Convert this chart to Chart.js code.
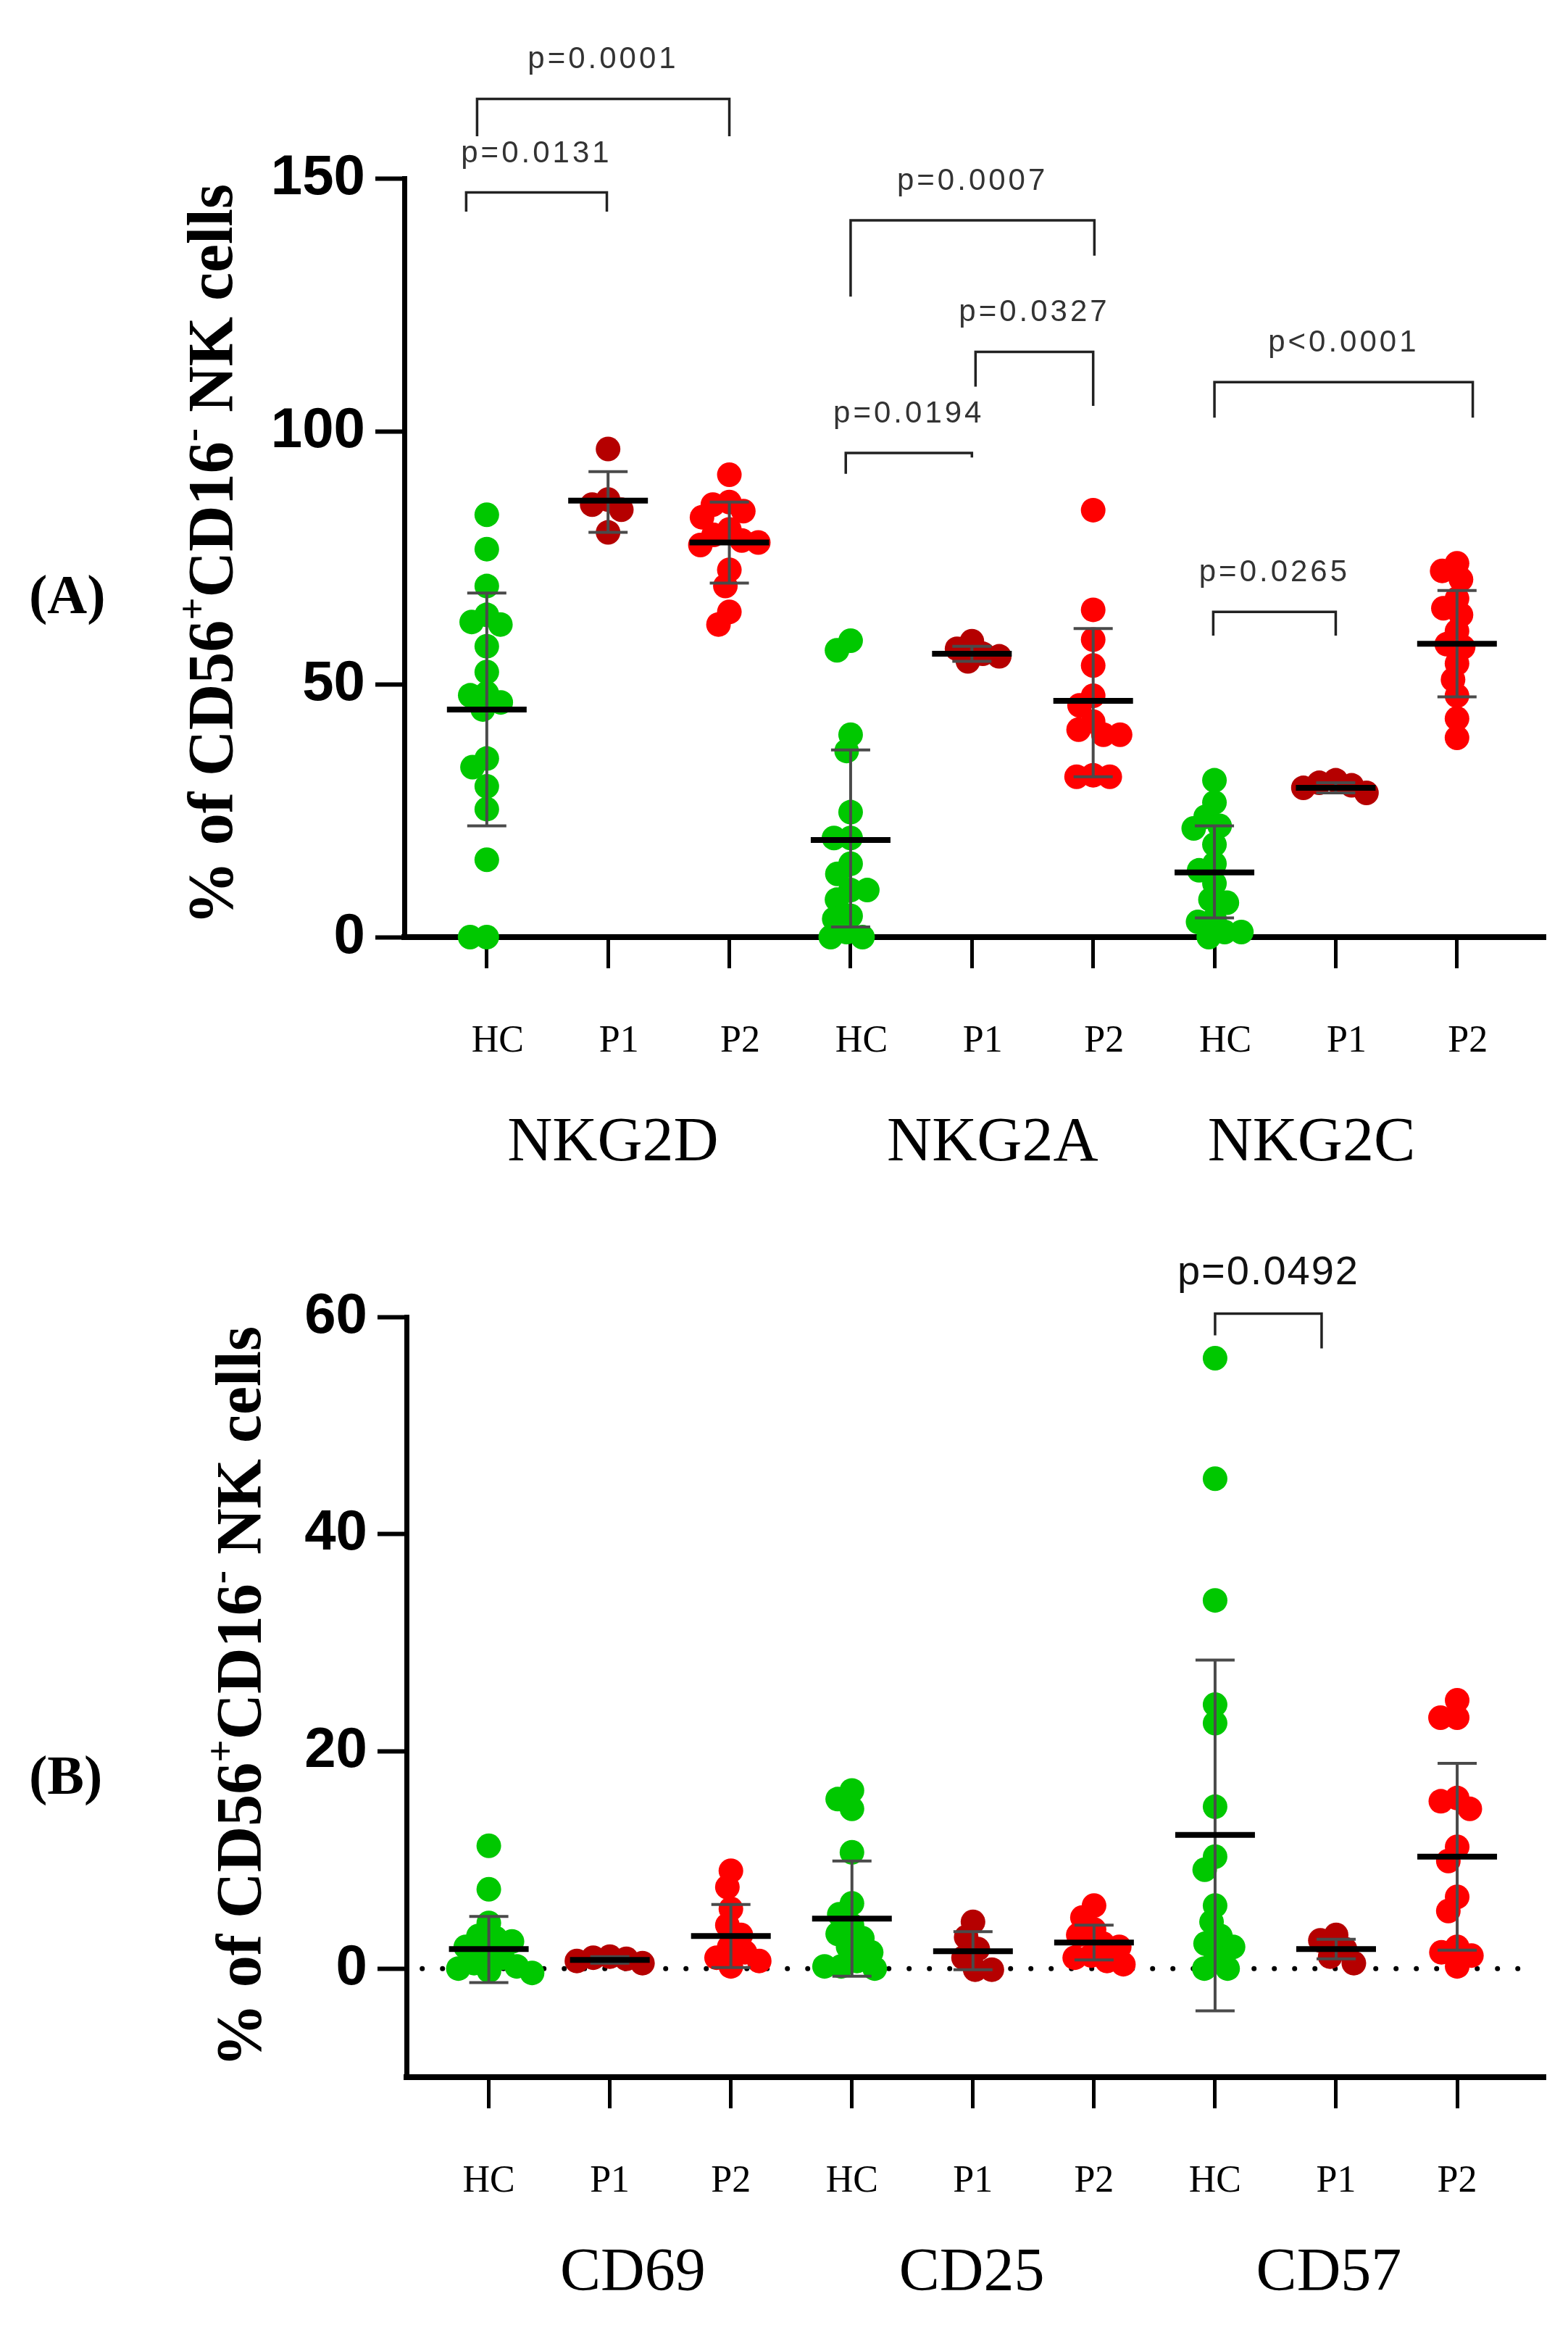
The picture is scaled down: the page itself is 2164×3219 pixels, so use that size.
<!DOCTYPE html>
<html>
<head>
<meta charset="utf-8">
<script src="https://cdn.jsdelivr.net/npm/chart.js@4.4.0/dist/chart.umd.min.js"></script>
<style>
  html, body { margin: 0; padding: 0; background: #fff; }
  #wrap { position: relative; width: 2164px; height: 3219px; }
  canvas { position: absolute; left: 0; }
</style>
</head>
<body>
<div id="wrap">
  <canvas id="panelA" width="2164" height="1650" style="top:0"></canvas>
  <canvas id="panelB" width="2164" height="1569" style="top:1650px"></canvas>
</div>
<script>
// ---- data ----
const subGroups = ["HC", "P1", "P2"];
const markersA = ["NKG2D", "NKG2A", "NKG2C"];
const markersB = ["CD69", "CD25", "CD57"];
const yTicksA = [0, 50, 100, 150];
const yTicksB = [0, 20, 40, 60];

// panel A, % of CD56+CD16- NK cells
const nkg2dHC = [83.5, 76.7, 69.4, 63.7, 62.3, 61.8, 57.5, 52.4, 48.2, 47.8, 46.4, 45, 35.3, 33.6, 29.8, 25.3, 15.3, 0, 0];
const nkg2dP1 = [96.5, 86.5, 85.5, 84.5, 80];
const nkg2dP2 = [91.4, 86, 85.5, 84.2, 83, 80.6, 79.5, 78.4, 78, 77.5, 72.6, 69.4, 64.3, 61.8];
const nkg2aHC = [58.6, 56.7, 40, 36.8, 24.7, 19.6, 19.6, 14.5, 12.5, 9.3, 9.3, 7.4, 4.2, 3.6, 1, 0, 0];
const nkg2aP1 = [58.5, 57, 56, 55.5, 54.5];
const nkg2aP2 = [84.4, 64.7, 58.8, 53.7, 47.7, 45.8, 42.6, 41, 40, 40, 32, 31.7, 31.7];
const nkg2cHC = [31, 26.6, 23.8, 22, 21.5, 18.3, 14.5, 13.2, 10.6, 7.4, 6.8, 3.6, 3, 1, 1, 0];
const nkg2cP1 = [31, 30.5, 30, 29.5, 28.5];
const nkg2cP2 = [73.9, 72.4, 70.7, 66.9, 65, 63.7, 60.5, 57.9, 57.3, 54.1, 50.9, 47.7, 43.2, 39.4];
const meanA = [45, 86.3, 78, 19.2, 56, 46.7, 12.8, 29.5, 58];
const sdLowA = [22, 80, 70, 2, 54.5, 31.7, 3.8, 28.5, 47.5];
const sdHighA = [68, 92, 86, 37, 57.5, 61, 22, 30.5, 68.5];

// panel B
const cd69HC = [11.3, 7.3, 4.2, 3, 2.8, 2.5, 2, 1.5, 1, 0.5, 0.2, 0, -0.2, -0.4];
const cd69P1 = [1.1, 1.0, 0.9, 0.7, 0.5];
const cd69P2 = [9, 7.5, 5.5, 4, 3.1, 2, 1.5, 1, 0.7, 0.2];
const cd25HC = [16.4, 15.6, 14.7, 10.7, 6, 5, 4, 3.2, 2.8, 2, 1.5, 0.7, 0.2, 0, 0.2];
const cd25P1 = [4.3, 2.9, 1.8, 1, -0.1, -0.1];
const cd25P2 = [5.8, 4.7, 3.6, 3.1, 2.3, 2, 1.2, 1, 0.7, 0.4];
const cd57HC = [56.2, 45.1, 33.9, 24.3, 22.6, 14.9, 10.3, 9.1, 5.8, 4.3, 3, 2.3, 2, 1.1, 0, 0];
const cd57P1 = [3.1, 2.6, 1.8, 1.1, 0.5];
const cd57P2 = [24.7, 23.1, 23.1, 15.7, 15.4, 14.7, 11.2, 9.9, 6.6, 5.3, 2, 1.5, 1.2, 0.2];
const meanB = [1.8, 0.8, 3.0, 4.6, 1.6, 2.4, 12.3, 1.8, 10.3];
const sdLowB = [-1.3, 0.5, 0.1, -0.7, -0.1, 0.8, -3.9, 0.9, 1.7];
const sdHighB = [4.8, 1.1, 5.9, 9.9, 3.4, 4.0, 28.4, 2.7, 18.9];

// significance brackets: [from, to, bar height, left leg end, right leg end, label]
const bracketsA = [
  [-0.17, 0.99, 147.2, 143.4, 143.4, "p=0.0131"],
  [-0.08, 2.0, 165.7, 158.3, 158.3, "p=0.0001"],
  [3.0, 5.01, 141.7, 126.6, 134.7, "p=0.0007"],
  [4.03, 5.0, 115.7, 108.8, 105, "p=0.0327"],
  [2.96, 4.0, 95.7, 91.6, 94.8, "p=0.0194"],
  [6.0, 8.13, 109.7, 102.7, 102.7, "p<0.0001"],
  [5.99, 7.0, 64.3, 59.6, 59.6, "p=0.0265"]
];
const bracketsB = [
  [6.0, 6.88, 60.3, 58.3, 57.1, "p=0.0492"]
];

const GREEN = "#00c800", DARKRED = "#b50000", RED = "#ff0000";
const groupColors = [GREEN, DARKRED, RED];
const SANS = "'Liberation Sans', Arial, sans-serif";
const SERIF = "'Liberation Serif', 'Times New Roman', serif";
const DOT_R = 17;
const SWARM_D = 23;

// simple beeswarm: spread dots sideways so they don't pile up
function applySwarm(chart, groups) {
  const xs = chart.scales.x, ys = chart.scales.y;
  const pxPerX = xs.getPixelForValue(1) - xs.getPixelForValue(0);
  groups.forEach((vals, gi) => {
    const order = vals.map((v, i) => i).sort((a, b) => vals[b] - vals[a]);
    const placed = [];
    const offs = new Array(vals.length).fill(0);
    order.forEach(i => {
      const py = ys.getPixelForValue(vals[i]);
      const blocked = [];
      placed.forEach(p => {
        const dy = Math.abs(p.y - py);
        if (dy < SWARM_D) {
          const w = Math.sqrt(SWARM_D * SWARM_D - dy * dy);
          blocked.push([p.x - w, p.x + w]);
        }
      });
      const cands = [0];
      blocked.forEach(b => cands.push(b[0], b[1]));
      cands.sort((a, b) => Math.abs(a) - Math.abs(b));
      const x = cands.find(c => blocked.every(b => c <= b[0] + 1e-6 || c >= b[1] - 1e-6));
      placed.push({ x: x, y: py });
      offs[i] = x;
    });
    chart.data.datasets[gi].data = vals.map((v, i) => ({ x: gi + offs[i] / pxPerX, y: v }));
  });
  chart.update("none");
}

function drawYTitle(ctx, cx, cy, size) {
  const parts = [
    { t: "% of CD56" }, { t: "+", sup: true }, { t: "CD16" }, { t: "-", sup: true }, { t: " NK cells" }
  ];
  const big = "bold " + size + "px " + SERIF;
  const small = "bold " + Math.round(size * 0.62) + "px " + SERIF;
  let total = 0;
  parts.forEach(p => { ctx.font = p.sup ? small : big; p.w = ctx.measureText(p.t).width; total += p.w; });
  ctx.save();
  ctx.translate(cx, cy);
  ctx.rotate(-Math.PI / 2);
  ctx.fillStyle = "#000";
  ctx.textBaseline = "alphabetic";
  ctx.textAlign = "left";
  let x = -total / 2;
  parts.forEach(p => {
    ctx.font = p.sup ? small : big;
    ctx.fillText(p.t, x, size * 0.33 - (p.sup ? size * 0.42 : 0));
    x += p.w;
  });
  ctx.restore();
}

function makePanel(id, opts) {
  const groups = opts.groups;
  const datasets = groups.map((vals, gi) => ({
    type: "scatter",
    data: vals.map(v => ({ x: gi, y: v })),
    backgroundColor: groupColors[gi % 3],
    borderWidth: 0,
    pointRadius: DOT_R,
    pointHoverRadius: DOT_R,
    clip: false,
    order: 1
  }));
  if (opts.zeroLine) {
    datasets.push({
      type: "line",
      data: [{ x: -0.55, y: 0 }, { x: 8.62, y: 0 }],
      borderColor: "#000",
      borderWidth: 7,
      borderDash: [0, 28],
      borderCapStyle: "round",
      pointRadius: 0,
      clip: false,
      order: 10
    });
  }

  const overlay = {
    id: "overlay" + id,
    afterDatasetsDraw(chart) {
      const ctx = chart.ctx, xs = chart.scales.x, ys = chart.scales.y;
      ctx.save();
      opts.mean.forEach((m, i) => {
        const x = xs.getPixelForValue(i);
        const yl = ys.getPixelForValue(opts.lo[i]), yh = ys.getPixelForValue(opts.hi[i]);
        ctx.strokeStyle = "#4a4a4a";
        ctx.lineWidth = 4;
        ctx.beginPath();
        ctx.moveTo(x, yl); ctx.lineTo(x, yh);
        ctx.moveTo(x - 27, yl); ctx.lineTo(x + 27, yl);
        ctx.moveTo(x - 27, yh); ctx.lineTo(x + 27, yh);
        ctx.stroke();
        const ym = ys.getPixelForValue(m);
        ctx.strokeStyle = "#000";
        ctx.lineWidth = 8;
        ctx.beginPath();
        ctx.moveTo(x - 55, ym); ctx.lineTo(x + 55, ym);
        ctx.stroke();
      });
      ctx.restore();
    },
    afterDraw(chart) {
      const ctx = chart.ctx, xs = chart.scales.x, ys = chart.scales.y;
      ctx.save();
      // brackets
      opts.brackets.forEach(b => {
        const x1 = xs.getPixelForValue(b[0]), x2 = xs.getPixelForValue(b[1]);
        const yt = ys.getPixelForValue(b[2]);
        ctx.strokeStyle = "#222";
        ctx.lineWidth = 3.5;
        ctx.beginPath();
        ctx.moveTo(x1, ys.getPixelForValue(b[3]));
        ctx.lineTo(x1, yt);
        ctx.lineTo(x2, yt);
        ctx.lineTo(x2, ys.getPixelForValue(b[4]));
        ctx.stroke();
        ctx.fillStyle = opts.pColor;
        ctx.font = opts.pFont;
        ctx.letterSpacing = opts.pSpacing;
        ctx.textAlign = "center";
        ctx.textBaseline = "alphabetic";
        ctx.fillText(b[5], (x1 + x2) / 2, yt - opts.pGap);
        ctx.letterSpacing = "0px";
      });
      // marker names under each triplet
      ctx.fillStyle = "#000";
      ctx.font = opts.groupFont;
      ctx.textAlign = "center";
      ctx.textBaseline = "middle";
      opts.markers.forEach((name, i) => {
        ctx.fillText(name, xs.getPixelForValue(opts.markerAt[i]), opts.markerY);
      });
      // panel letter
      ctx.font = "bold 76px " + SERIF;
      ctx.textAlign = "left";
      ctx.fillText(opts.letter, 40, opts.letterY);
      ctx.restore();
      drawYTitle(ctx, opts.titleX, opts.titleY, 88);
    }
  };

  const chart = new Chart(document.getElementById(id), {
    data: { datasets: datasets },
    options: {
      responsive: false,
      animation: false,
      devicePixelRatio: 1,
      layout: { padding: { left: 0, right: 31, top: opts.top, bottom: opts.bottom } },
      plugins: { legend: { display: false }, tooltip: { enabled: false } },
      scales: {
        x: {
          type: "linear",
          min: -0.68,
          max: 8.73,
          afterBuildTicks: s => { s.ticks = groups.map((g, i) => ({ value: i })); },
          afterFit: s => { s.height = 250; },
          ticks: {
            callback: (v, i) => subGroups[i % 3],
            font: { family: SERIF, size: 52 },
            color: "#000",
            padding: 70,
            labelOffset: opts.labelOffset,
            maxRotation: 0,
            autoSkip: false
          },
          grid: { drawOnChartArea: false, drawTicks: true, tickLength: 43, tickWidth: 5, tickColor: "#000" },
          border: { display: true, width: 8, color: "#000" }
        },
        y: {
          min: opts.yMin,
          max: opts.yMax,
          afterBuildTicks: s => { s.ticks = opts.yTicks.map(v => ({ value: v })); },
          afterFit: s => { s.width = opts.axisLeft; },
          ticks: { font: { family: SANS, size: 78, weight: "bold" }, color: "#000", padding: 14 },
          grid: { drawOnChartArea: false, drawTicks: true, tickLength: 40, tickWidth: 6, tickColor: "#000" },
          border: { display: true, width: 7, color: "#000" }
        }
      }
    },
    plugins: [overlay]
  });
  applySwarm(chart, groups);
  return chart;
}

makePanel("panelA", {
  groups: [nkg2dHC, nkg2dP1, nkg2dP2, nkg2aHC, nkg2aP1, nkg2aP2, nkg2cHC, nkg2cP1, nkg2cP2],
  mean: meanA, lo: sdLowA, hi: sdHighA,
  brackets: bracketsA,
  markers: markersA, markerAt: [1.04, 4.17, 6.8], markerY: 1578,
  groupFont: "86px " + SERIF,
  yMin: 0, yMax: 150, yTicks: yTicksA,
  top: 246, bottom: 107, axisLeft: 558, labelOffset: 15,
  pFont: "42px " + SANS, pSpacing: "4px", pColor: "#333", pGap: 42,
  letter: "(A)", letterY: 826,
  titleX: 291, titleY: 765,
  zeroLine: false
});

makePanel("panelB", {
  groups: [cd69HC, cd69P1, cd69P2, cd25HC, cd25P1, cd25P2, cd57HC, cd57P1, cd57P2],
  mean: meanB, lo: sdLowB, hi: sdHighB,
  brackets: bracketsB,
  markers: markersB, markerAt: [1.19, 3.99, 6.94], markerY: 1488,
  groupFont: "84px " + SERIF,
  yMin: -10, yMax: 60, yTicks: yTicksB,
  top: 167, bottom: 103, axisLeft: 561, labelOffset: 0,
  pFont: "56px " + SANS, pSpacing: "2px", pColor: "#111", pGap: 41,
  letter: "(B)", letterY: 805,
  titleX: 330, titleY: 691,
  zeroLine: true
});
</script>
</body>
</html>
